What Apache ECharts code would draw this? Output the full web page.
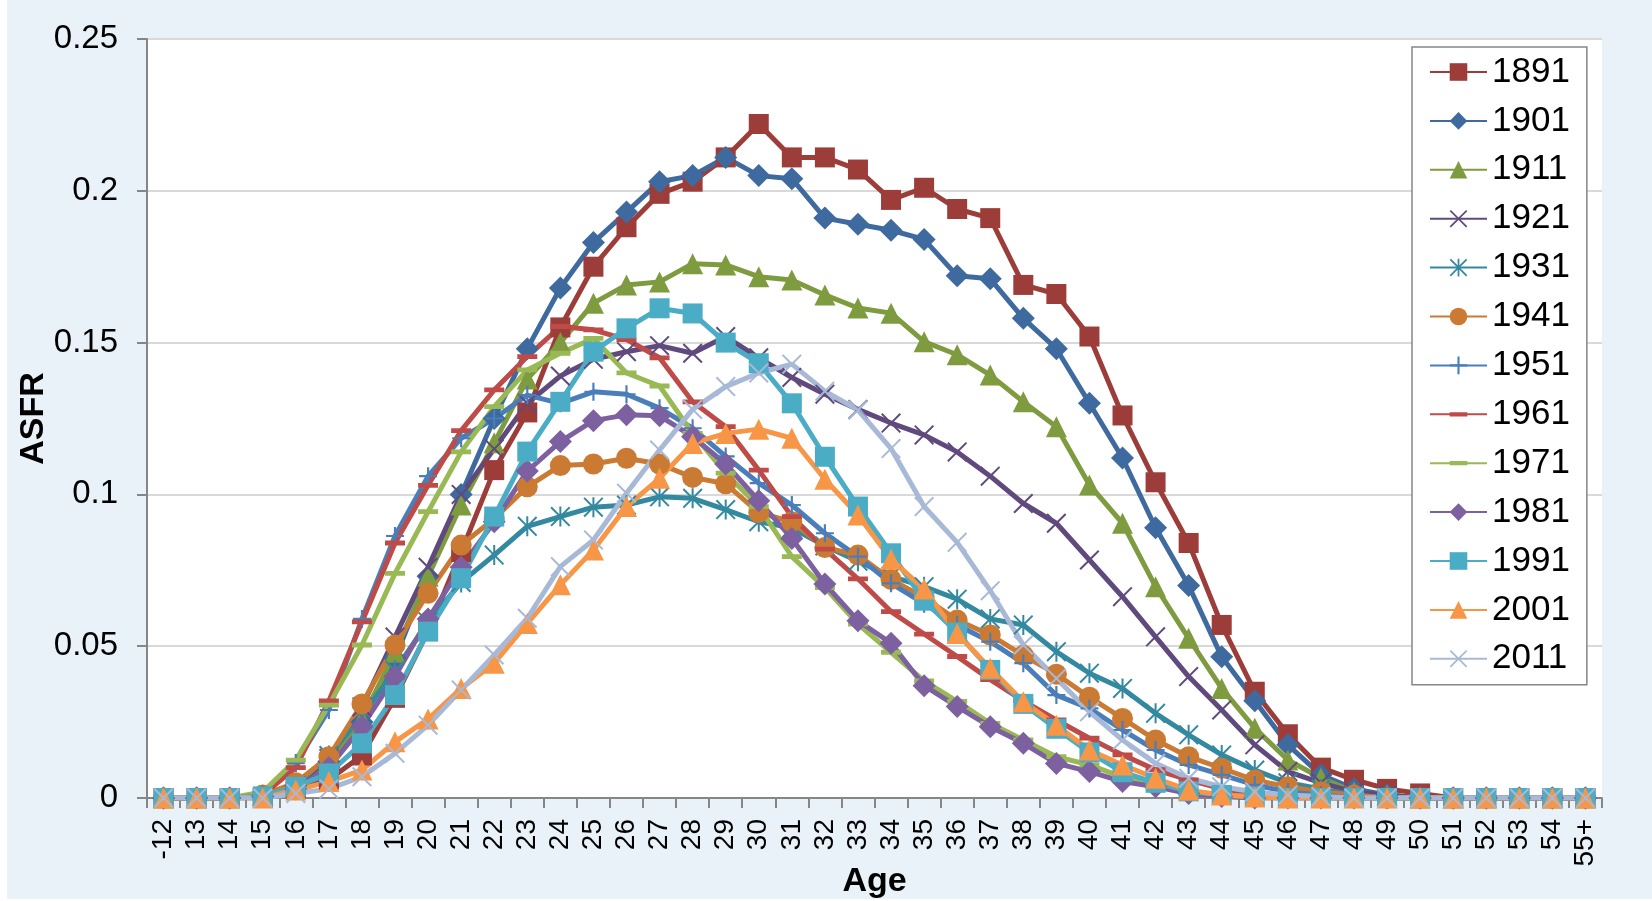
<!DOCTYPE html>
<html>
<head>
	<meta charset="utf-8">
	<title>ASFR by age</title>
	<style>
		html, body { margin: 0; padding: 0; background: #fff; }
		#container { width: 1652px; height: 901px; }
	</style>
</head>
<body>
<script type="text/javascript" src="https://cdn.jsdelivr.net/npm/echarts@6/dist/echarts.min.js"></script>
<div id="container"></div>
<script type="text/javascript">
	// age groups (x axis)
	var ages = ['-12', '13', '14', '15', '16', '17', '18', '19', '20', '21', '22', '23', '24', '25', '26', '27',
		'28', '29', '30', '31', '32', '33', '34', '35', '36', '37', '38', '39', '40', '41', '42', '43', '44',
		'45', '46', '47', '48', '49', '50', '51', '52', '53', '54', '55+'];

	var years = ['1891', '1901', '1911', '1921', '1931', '1941', '1951', '1961', '1971', '1981', '1991', '2001', '2011'];

	// age specific fertility rates
	var asfr1891 = [0, 0, 0, 0, 0.003, 0.006, 0.014, 0.033, 0.055, 0.081, 0.108, 0.127, 0.155, 0.175, 0.188, 0.199,
		0.203, 0.211, 0.222, 0.211, 0.211, 0.207, 0.197, 0.201, 0.194, 0.191, 0.169, 0.166, 0.152, 0.126, 0.104, 0.084, 0.057,
		0.035, 0.021, 0.010, 0.006, 0.003, 0.0015, 0, 0, 0, 0, 0];
	var asfr1901 = [0, 0, 0, 0.0005, 0.004, 0.012, 0.025, 0.046, 0.073, 0.100, 0.125, 0.148, 0.168, 0.183, 0.193, 0.203,
		0.205, 0.211, 0.205, 0.204, 0.191, 0.189, 0.187, 0.184, 0.172, 0.171, 0.158, 0.148, 0.130, 0.112, 0.089, 0.070, 0.0465,
		0.032, 0.0175, 0.0076, 0.003, 0.001, 0, 0, 0, 0, 0, 0];
	var asfr1911 = [0, 0, 0, 0.001, 0.004, 0.012, 0.026, 0.048, 0.073, 0.0965, 0.117, 0.138, 0.150, 0.163, 0.169, 0.170,
		0.176, 0.1756, 0.1717, 0.1706, 0.1657, 0.1614, 0.1597, 0.1503, 0.146, 0.1393, 0.1305, 0.1223, 0.1031, 0.0905, 0.0696, 0.0526, 0.0361,
		0.023, 0.0125, 0.0066, 0.002, 0.001, 0, 0, 0, 0, 0, 0];
	var asfr1921 = [0, 0, 0, 0.0005, 0.004, 0.013, 0.030, 0.053, 0.076, 0.100, 0.115, 0.130, 0.139, 0.1445, 0.147, 0.149,
		0.1465, 0.152, 0.145, 0.1385, 0.133, 0.128, 0.1235, 0.1196, 0.114, 0.106, 0.097, 0.0905, 0.0784, 0.0663, 0.0531, 0.040, 0.029,
		0.0175, 0.0087, 0.005, 0.002, 0.001, 0, 0, 0, 0, 0, 0];
	var asfr1931 = [0, 0, 0, 0.0005, 0.004, 0.014, 0.027, 0.042, 0.058, 0.071, 0.080, 0.0895, 0.0927, 0.0958, 0.0965, 0.0992,
		0.0987, 0.095, 0.091, 0.089, 0.083, 0.078, 0.073, 0.0696, 0.0655, 0.059, 0.057, 0.0482, 0.0411, 0.0361, 0.0279, 0.0208, 0.0142,
		0.0092, 0.005, 0.003, 0.001, 0, 0, 0, 0, 0, 0, 0];
	var asfr1941 = [0, 0, 0, 0.001, 0.005, 0.0136, 0.031, 0.0504, 0.0674, 0.0833, 0.092, 0.1025, 0.1095, 0.110, 0.1119, 0.110,
		0.1056, 0.1035, 0.094, 0.091, 0.0825, 0.080, 0.072, 0.066, 0.0586, 0.0537, 0.047, 0.0408, 0.0332, 0.0262, 0.0191, 0.0136, 0.0098,
		0.0059, 0.0037, 0.002, 0.001, 0, 0, 0, 0, 0, 0, 0];
	var asfr1951 = [0, 0, 0, 0.001, 0.0115, 0.029, 0.059, 0.0863, 0.106, 0.1185, 0.125, 0.1327, 0.1300, 0.1338, 0.1330, 0.1284,
		0.1218, 0.1125, 0.1037, 0.0965, 0.0872, 0.0795, 0.0707, 0.064, 0.057, 0.0515, 0.0444, 0.0339, 0.0295, 0.0224, 0.0158, 0.0109, 0.0076,
		0.0043, 0.002, 0.001, 0, 0, 0, 0, 0, 0, 0, 0];
	var asfr1961 = [0, 0, 0, 0.001, 0.010, 0.032, 0.058, 0.084, 0.103, 0.121, 0.1344, 0.1454, 0.1553, 0.1542, 0.151, 0.145,
		0.1305, 0.1223, 0.108, 0.0927, 0.082, 0.0722, 0.0614, 0.054, 0.0466, 0.039, 0.032, 0.0257, 0.0197, 0.0142, 0.0093, 0.006, 0.003,
		0.0015, 0.0005, 0, 0, 0, 0, 0, 0, 0, 0, 0];
	var asfr1971 = [0, 0, 0, 0.002, 0.0125, 0.0306, 0.0504, 0.074, 0.0943, 0.114, 0.1289, 0.141, 0.1465, 0.1514, 0.140, 0.1357,
		0.1201, 0.107, 0.096, 0.0795, 0.0693, 0.0573, 0.048, 0.0386, 0.0318, 0.0246, 0.0191, 0.0136, 0.0109, 0.0069, 0.004, 0.002, 0.001,
		0, 0, 0, 0, 0, 0, 0, 0, 0, 0, 0];
	var asfr1981 = [0, 0, 0, 0.0005, 0.003, 0.010, 0.0235, 0.040, 0.059, 0.076, 0.091, 0.1077, 0.1174, 0.1243, 0.1262, 0.1259,
		0.119, 0.110, 0.0979, 0.0855, 0.0705, 0.0584, 0.051, 0.037, 0.0301, 0.0235, 0.018, 0.0114, 0.0087, 0.0054, 0.0037, 0.0015, 0.0005,
		0, 0, 0, 0, 0, 0, 0, 0, 0, 0, 0];
	var asfr1991 = [0, 0, 0, 0.0005, 0.0037, 0.0081, 0.018, 0.0339, 0.0548, 0.0724, 0.0927, 0.1141, 0.1305, 0.147, 0.1547, 0.1613,
		0.1596, 0.150, 0.1432, 0.130, 0.1124, 0.096, 0.0806, 0.065, 0.0545, 0.0422, 0.031, 0.0228, 0.015, 0.0085, 0.005, 0.0022, 0.001,
		0.0005, 0, 0, 0, 0, 0, 0, 0, 0, 0, 0];
	var asfr2001 = [0, 0, 0, 0, 0.0026, 0.0054, 0.0092, 0.0185, 0.026, 0.0361, 0.0444, 0.0575, 0.0702, 0.0817, 0.096, 0.1053,
		0.1168, 0.1201, 0.1215, 0.1185, 0.105, 0.0932, 0.0786, 0.0688, 0.0542, 0.0427, 0.0317, 0.024, 0.0158, 0.0109, 0.0065, 0.0026, 0.001,
		0.0003, 0, 0, 0, 0, 0, 0, 0, 0, 0, 0];
	var asfr2011 = [0, 0, 0, 0, 0.0015, 0.003, 0.007, 0.0147, 0.024, 0.0356, 0.0471, 0.0592, 0.0762, 0.085, 0.1004, 0.1146,
		0.128, 0.1355, 0.140, 0.1429, 0.134, 0.1278, 0.1151, 0.096, 0.0842, 0.0683, 0.0504, 0.0394, 0.0284, 0.0191, 0.0114, 0.0065, 0.0037,
		0.002, 0.001, 0.0005, 0, 0, 0, 0, 0, 0, 0, 0];

	var values = [asfr1891, asfr1901, asfr1911, asfr1921, asfr1931, asfr1941, asfr1951,
		asfr1961, asfr1971, asfr1981, asfr1991, asfr2001, asfr2011];

	var colors = ['#9D3D3A', '#3E6A9F', '#7F9B3F', '#604A7D', '#33899F', '#CB7A33', '#4A7EBB',
		'#BE4B48', '#98B954', '#7D60A0', '#4BACC6', '#F79646', '#A8B9D8'];

	// excel-like marker shapes
	var xMark = 'path://M0.7,0 L5,4.3 L9.3,0 L10,0.7 L5.7,5 L10,9.3 L9.3,10 L5,5.7 L0.7,10 L0,9.3 L4.3,5 L0,0.7 Z';
	var starMark = xMark.replace(' Z', ' Z M4.5,0 L5.5,0 L5.5,10 L4.5,10 Z');
	var plusMark = 'path://M4.4,0 L5.6,0 L5.6,4.4 L10,4.4 L10,5.6 L5.6,5.6 L5.6,10 L4.4,10 L4.4,5.6 L0,5.6 L0,4.4 L4.4,4.4 Z';
	var dashMark = 'path://M0,0 L0,0 Z M0,3.8 L10,3.8 L10,6.2 L0,6.2 Z M10,10 L10,10 Z';
	var symbols = ['rect', 'diamond', 'triangle', xMark, starMark, 'circle', plusMark,
		dashMark, dashMark, 'diamond', 'rect', 'triangle', xMark];
	var sizes = [20, 23, 21, 20, 20, 21, 18, 20, 20, 23, 20, 21, 20];

	var font = "'Liberation Sans', Arial, sans-serif";

	var series = [];
	for (var i = 0; i < years.length; i++) {
		series.push({
			name: years[i],
			type: 'line',
			data: values[i],
			symbol: symbols[i],
			symbolSize: sizes[i],
			showAllSymbol: true,
			lineStyle: { color: colors[i], width: 5 },
			itemStyle: { color: colors[i], borderWidth: 0 },
			emphasis: { disabled: true }
		});
	}

	var myChart = echarts.init(document.getElementById('container'));
	var option = {
		animation: false,
		backgroundColor: '#ffffff',
		color: colors,
		graphic: [{
			type: 'rect',
			z: -10,
			shape: { x: 7, y: 0, width: 1645, height: 899 },
			style: { fill: '#e8f2f8' },
			silent: true
		}],
		grid: {
			left: 147, right: 50, top: 39, bottom: 103,
			containLabel: false,
			outerBoundsMode: 'none',
			show: true, backgroundColor: '#ffffff', borderWidth: 0
		},
		legend: {
			orient: 'vertical',
			left: 1412,
			top: 47,
			data: years,
			itemWidth: 57,
			itemHeight: 22,
			itemGap: 8.9,
			padding: [5, 17, 6, 17],
			backgroundColor: '#ffffff',
			borderColor: '#868686',
			borderWidth: 1.5,
			borderRadius: 0,
			textStyle: { fontFamily: font, fontSize: 35, lineHeight: 40, color: '#000' }
		},
		xAxis: {
			type: 'category',
			data: ages,
			name: 'Age',
			nameLocation: 'middle',
			nameGap: 67,
			nameMoveOverlap: false,
			nameTextStyle: { fontFamily: font, fontWeight: 'bold', fontSize: 34, color: '#000' },
			axisLine: { lineStyle: { color: '#868686', width: 2 } },
			axisTick: { show: true, length: 10, lineStyle: { color: '#868686', width: 2 } },
			axisLabel: { interval: 0, rotate: 90, margin: 21, fontFamily: font, fontSize: 28, color: '#000' },
			splitLine: { show: false }
		},
		yAxis: {
			type: 'value',
			min: 0,
			max: 0.25,
			interval: 0.05,
			name: 'ASFR',
			nameLocation: 'middle',
			nameGap: 96,
			nameMoveOverlap: false,
			nameTextStyle: { fontFamily: font, fontWeight: 'bold', fontSize: 34, color: '#000' },
			axisLine: { show: true, lineStyle: { color: '#868686', width: 2 } },
			axisTick: { show: true, length: 10, lineStyle: { color: '#868686', width: 2 } },
			axisLabel: { margin: 29, fontFamily: font, fontSize: 33, color: '#000' },
			splitLine: { show: true, lineStyle: { color: '#d9d9d9', width: 2 } }
		},
		series: series
	};
	myChart.setOption(option);
	window.addEventListener('resize', myChart.resize);
</script>
</body>
</html>
